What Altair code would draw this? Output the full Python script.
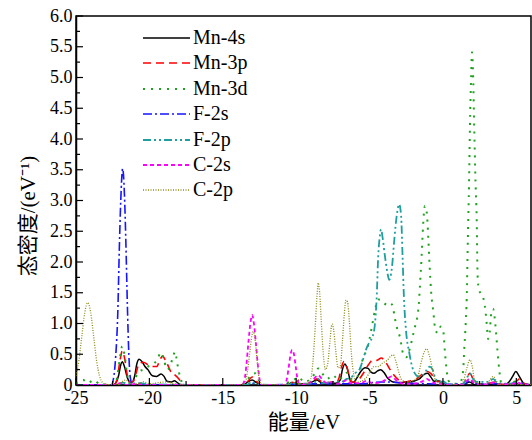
import altair as alt
import pandas as pd

# ---------------- data ----------------
SERIES = ["Mn-4s", "Mn-3p", "Mn-3d", "F-2s", "F-2p", "C-2s", "C-2p"]
COLORS = ["#000000", "#FF0000", "#1FA31F", "#1515FF", "#1E9E9E", "#FF00FF", "#8C8C1A"]
DASHES = [None, [8, 5], [2, 6], [9, 3, 2, 3], [8, 3, 2, 3, 2, 3], [4, 3], [1, 1.5]]
WIDTHS = [1.5, 1.6, 2.0, 1.6, 1.8, 1.8, 1.3]

X_MAJOR = [-25, -20, -15, -10, -5, 0, 5]
X_MINOR = [-22.5, -17.5, -12.5, -7.5, -2.5, 2.5]
Y_MAJOR = [0, 0.5, 1, 1.5, 2, 2.5, 3, 3.5, 4, 4.5, 5, 5.5, 6]
Y_MINOR = [0.25, 0.75, 1.25, 1.75, 2.25, 2.75, 3.25, 3.75, 4.25, 4.75, 5.25, 5.75]

MN_4S = [(-25, 0), (-23, 0), (-22.5, 0), (-22.3, 0.03), (-22.1, 0.15), (-21.95, 0.33), (-21.85, 0.38),
         (-21.7, 0.3), (-21.5, 0.12), (-21.3, 0.04), (-21.15, 0.05), (-21.0, 0.15), (-20.85, 0.35),
         (-20.7, 0.42), (-20.5, 0.38), (-20.3, 0.3), (-20.1, 0.25), (-19.8, 0.15), (-19.5, 0.14),
         (-19.2, 0.18), (-19.0, 0.14), (-18.8, 0.06), (-18.5, 0.05), (-18.3, 0.07), (-18.1, 0.04),
         (-17.9, 0.01), (-17.5, 0), (-13.6, 0), (-13.3, 0.05), (-13.0, 0.08), (-12.7, 0.04), (-12.4, 0),
         (-10.6, 0), (-10.3, 0.04), (-10.0, 0.02), (-9.2, 0.02), (-8.9, 0.05), (-8.6, 0.08), (-8.3, 0.04),
         (-8.0, 0.02), (-7.6, 0.03), (-7.3, 0.03), (-7.0, 0.08), (-6.85, 0.25), (-6.68, 0.34), (-6.5, 0.25),
         (-6.3, 0.07), (-6.1, 0.04), (-5.9, 0.1), (-5.6, 0.22), (-5.3, 0.28), (-5.1, 0.27), (-4.9, 0.21),
         (-4.7, 0.19), (-4.45, 0.23), (-4.25, 0.25), (-4.0, 0.2), (-3.8, 0.12), (-3.5, 0.06), (-3.2, 0.04),
         (-2.8, 0.04), (-2.5, 0.05), (-2.2, 0.05), (-1.9, 0.07), (-1.6, 0.1), (-1.3, 0.17), (-1.05, 0.19),
         (-0.8, 0.12), (-0.6, 0.06), (-0.4, 0.07), (-0.2, 0.06), (0.0, 0.02), (0.3, 0.0), (1.4, 0.0),
         (1.8, 0.05), (2.2, 0.0), (4.2, 0.0), (4.5, 0.05), (4.75, 0.14), (4.97, 0.22), (5.2, 0.14),
         (5.45, 0.04), (5.7, 0.0), (6.0, 0.0)]

MN_3P = [(-25, 0), (-22.4, 0), (-22.2, 0.1), (-22.0, 0.4), (-21.85, 0.55), (-21.7, 0.45), (-21.5, 0.15),
         (-21.3, 0.04), (-21.1, 0.06), (-20.9, 0.2), (-20.7, 0.35), (-20.4, 0.37), (-20.1, 0.33),
         (-19.8, 0.3), (-19.5, 0.3), (-19.3, 0.4), (-19.1, 0.47), (-18.9, 0.4), (-18.7, 0.3), (-18.5, 0.2),
         (-18.3, 0.17), (-18.0, 0.1), (-17.8, 0.03), (-17.6, 0), (-13.7, 0), (-13.3, 0.06), (-13.0, 0.13),
         (-12.7, 0.06), (-12.4, 0), (-10.7, 0), (-10.4, 0.06), (-10.1, 0.03), (-9.8, 0.08), (-9.5, 0.02),
         (-9.0, 0.03), (-8.6, 0.1), (-8.3, 0.06), (-8.0, 0.03), (-7.6, 0.05), (-7.3, 0.03), (-7.1, 0.1),
         (-6.9, 0.3), (-6.75, 0.38), (-6.55, 0.3), (-6.35, 0.12), (-6.2, 0.05), (-6.0, 0.05), (-5.7, 0.1),
         (-5.4, 0.2), (-5.1, 0.32), (-4.8, 0.4), (-4.5, 0.4), (-4.2, 0.44), (-3.9, 0.37), (-3.6, 0.25),
         (-3.3, 0.15), (-3.0, 0.08), (-2.6, 0.05), (-2.2, 0.07), (-1.8, 0.1), (-1.4, 0.18), (-1.05, 0.22),
         (-0.8, 0.18), (-0.5, 0.08), (-0.2, 0.05), (0.2, 0.01), (1.3, 0), (1.6, 0.1), (1.84, 0.19),
         (2.05, 0.1), (2.4, 0.02), (3.2, 0.03), (3.5, 0.05), (3.8, 0.01), (4.6, 0.02), (5.0, 0.06),
         (5.24, 0.1), (5.5, 0.03), (6, 0)]

MN_3D = [(-25, 0.02), (-24.5, 0.08), (-24.2, 0.03), (-23.8, 0.08), (-23.4, 0.02), (-22.4, 0), (-22.2, 0.12),
         (-22.0, 0.45), (-21.85, 0.63), (-21.7, 0.5), (-21.5, 0.15), (-21.3, 0.04), (-21.0, 0.1),
         (-20.7, 0.22), (-20.4, 0.25), (-20.1, 0.3), (-19.8, 0.33), (-19.5, 0.4), (-19.2, 0.53),
         (-19.0, 0.4), (-18.8, 0.25), (-18.6, 0.3), (-18.4, 0.45), (-18.25, 0.54), (-18.1, 0.35),
         (-17.9, 0.12), (-17.7, 0.02), (-17.4, 0), (-13.8, 0), (-13.4, 0.06), (-13.1, 0.15), (-12.8, 0.19),
         (-12.5, 0.06), (-12.2, 0), (-10.8, 0), (-10.5, 0.05), (-10.2, 0.08), (-9.8, 0.13), (-9.5, 0.05),
         (-9.0, 0.1), (-8.7, 0.2), (-8.49, 0.27), (-8.2, 0.18), (-7.9, 0.1), (-7.5, 0.16), (-7.1, 0.08),
         (-6.8, 0.15), (-6.56, 0.2), (-6.3, 0.1), (-6.0, 0.1), (-5.7, 0.2), (-5.43, 0.45), (-5.2, 0.57),
         (-5.0, 0.75), (-4.8, 1.0), (-4.6, 1.25), (-4.4, 1.39), (-4.2, 1.38), (-4.0, 1.33), (-3.8, 1.3),
         (-3.6, 1.33), (-3.45, 1.3), (-3.27, 1.08), (-3.1, 0.9), (-2.93, 0.78), (-2.7, 0.5), (-2.5, 0.45),
         (-2.25, 0.6), (-2.05, 0.8), (-1.9, 0.95), (-1.75, 1.1), (-1.65, 1.3), (-1.57, 1.6), (-1.45, 2.1),
         (-1.35, 2.6), (-1.23, 2.91), (-1.1, 2.8), (-1.0, 2.4), (-0.9, 1.9), (-0.8, 1.5), (-0.66, 1.2),
         (-0.5, 0.88), (-0.35, 0.85), (-0.15, 0.95), (0.02, 0.88), (0.14, 0.52), (0.25, 0.25), (0.36, 0.08),
         (0.6, 0.02), (1.0, 0.02), (1.2, 0.05), (1.38, 0.24), (1.45, 0.57), (1.55, 1.0), (1.62, 1.4),
         (1.7, 2.4), (1.78, 3.3), (1.84, 4.2), (1.92, 5.0), (1.98, 5.41), (2.06, 5.0), (2.13, 4.2),
         (2.22, 3.3), (2.3, 2.7), (2.36, 1.8), (2.45, 1.55), (2.55, 1.5), (2.7, 1.45), (2.8, 1.36),
         (2.9, 1.2), (2.98, 1.0), (3.08, 0.75), (3.18, 0.85), (3.3, 1.18), (3.42, 1.24), (3.52, 1.1),
         (3.62, 0.85), (3.72, 0.55), (3.84, 0.24), (3.95, 0.05), (4.2, 0), (4.6, 0.03), (5.0, 0.06),
         (5.3, 0.03), (6, 0)]

F_2S = [(-25, 0), (-22.6, 0), (-22.45, 0.1), (-22.3, 0.45), (-22.15, 1.2), (-22.05, 2.2), (-21.95, 3.0),
        (-21.82, 3.52), (-21.7, 3.1), (-21.6, 2.3), (-21.5, 1.3), (-21.4, 0.5), (-21.3, 0.12), (-21.15, 0),
        (-13.3, 0), (-13.0, 0.03), (-12.7, 0), (-8.6, 0.02), (-6.6, 0.02), (-5.5, 0.02), (-4.8, 0.04),
        (-4.2, 0.05), (-3.5, 0.05), (-2.8, 0.03), (-1.0, 0.02), (0.0, 0.01), (1.5, 0.02), (1.84, 0.08),
        (2.2, 0.02), (5.0, 0.02), (5.2, 0.03), (6, 0)]

F_2P = [(-25, 0), (-22.2, 0), (-22.0, 0.02), (-21.8, 0.04), (-21.5, 0.02), (-20.6, 0.03), (-20, 0.01),
        (-13.4, 0), (-13.0, 0.05), (-12.7, 0.01), (-10.5, 0.0), (-10.3, 0.04), (-10.0, 0.02), (-8.8, 0.03),
        (-8.5, 0.1), (-8.2, 0.03), (-7.5, 0.05), (-6.8, 0.06), (-6.56, 0.1), (-6.34, 0.11), (-5.99, 0.19),
        (-5.65, 0.27), (-5.4, 0.45), (-5.2, 0.6), (-5.0, 0.7), (-4.79, 0.79), (-4.63, 1.0), (-4.52, 1.39),
        (-4.41, 2.09), (-4.3, 2.42), (-4.22, 2.53), (-4.1, 2.38), (-3.95, 2.09), (-3.8, 1.85), (-3.66, 1.71),
        (-3.49, 1.88), (-3.31, 2.37), (-3.15, 2.75), (-2.98, 2.94), (-2.85, 2.75), (-2.75, 2.09),
        (-2.66, 1.44), (-2.52, 0.9), (-2.29, 0.52), (-2.02, 0.24), (-1.68, 0.14), (-1.4, 0.15), (-1.1, 0.25),
        (-0.89, 0.3), (-0.7, 0.25), (-0.5, 0.1), (-0.2, 0.05), (0.0, 0.06), (0.3, 0.02), (0.8, 0.0),
        (1.4, 0.02), (1.6, 0.1), (1.84, 0.19), (2.05, 0.1), (2.3, 0.05), (2.7, 0.05), (3.1, 0.05),
        (3.43, 0.1), (3.7, 0.03), (4.5, 0.02), (5.0, 0.04), (5.5, 0.01), (6, 0)]

C_2S = [(-25, 0), (-22.3, 0), (-22.0, 0.03), (-21.6, 0), (-20.8, 0.02), (-20.4, 0), (-13.7, 0), (-13.55, 0.05),
        (-13.4, 0.3), (-13.25, 0.7), (-13.12, 1.0), (-13.0, 1.14), (-12.88, 1.0), (-12.75, 0.7), (-12.6, 0.3),
        (-12.45, 0.05), (-12.3, 0), (-10.8, 0), (-10.65, 0.08), (-10.5, 0.3), (-10.38, 0.5), (-10.27, 0.57),
        (-10.15, 0.5), (-10.03, 0.3), (-9.9, 0.08), (-9.75, 0), (-9.2, 0.02), (-8.8, 0.1), (-8.5, 0.16),
        (-8.2, 0.08), (-7.9, 0.03), (-7.5, 0.05), (-7.2, 0.02), (-6.8, 0.05), (-6.56, 0.08), (-6.3, 0.03),
        (-5.6, 0.03), (-5.2, 0.07), (-4.8, 0.03), (-4.3, 0.04), (-3.8, 0.1), (-3.5, 0.14), (-3.2, 0.08),
        (-2.7, 0.02), (-2.0, 0.02), (-1.4, 0.06), (-1.1, 0.1), (-0.8, 0.05), (-0.3, 0.02), (0.5, 0),
        (1.4, 0.01), (1.8, 0.1), (2.2, 0.02), (3.0, 0.01), (3.4, 0.04), (3.8, 0.01), (4.8, 0.02),
        (5.1, 0.04), (5.4, 0.01), (6, 0)]

C_2P = [(-25, 0.15), (-24.8, 0.4), (-24.6, 0.8), (-24.4, 1.18), (-24.2, 1.34), (-24.0, 1.18), (-23.8, 0.8),
        (-23.6, 0.4), (-23.4, 0.15), (-23.2, 0.04), (-23.0, 0.01), (-22.2, 0), (-21.9, 0.05), (-21.6, 0.08),
        (-21.3, 0.03), (-20.8, 0.02), (-20.4, 0.05), (-20.0, 0.02), (-19.3, 0.04), (-18.8, 0.05),
        (-18.3, 0.02), (-17.8, 0), (-13.6, 0), (-13.45, 0.05), (-13.3, 0.25), (-13.15, 0.55), (-13.02, 0.8),
        (-12.92, 0.87), (-12.8, 0.75), (-12.68, 0.45), (-12.55, 0.15), (-12.4, 0.02), (-12.2, 0),
        (-10.6, 0), (-10.3, 0.04), (-10.0, 0.02), (-9.5, 0.02), (-9.2, 0.03), (-9.0, 0.1), (-8.85, 0.4),
        (-8.7, 0.95), (-8.58, 1.45), (-8.49, 1.66), (-8.4, 1.5), (-8.28, 1.0), (-8.15, 0.5), (-8.0, 0.25),
        (-7.85, 0.35), (-7.7, 0.7), (-7.6, 0.95), (-7.54, 0.99), (-7.45, 0.9), (-7.3, 0.55), (-7.15, 0.28),
        (-7.0, 0.3), (-6.85, 0.7), (-6.72, 1.15), (-6.6, 1.38), (-6.5, 1.35), (-6.38, 1.05), (-6.25, 0.55),
        (-6.1, 0.2), (-5.95, 0.08), (-5.8, 0.05), (-5.3, 0.1), (-5.0, 0.2), (-4.7, 0.3), (-4.4, 0.3),
        (-4.1, 0.36), (-3.8, 0.4), (-3.55, 0.47), (-3.38, 0.49), (-3.2, 0.38), (-3.0, 0.2), (-2.8, 0.08),
        (-2.4, 0.05), (-2.0, 0.07), (-1.7, 0.15), (-1.45, 0.4), (-1.25, 0.55), (-1.11, 0.59), (-0.95, 0.5),
        (-0.75, 0.3), (-0.55, 0.1), (-0.3, 0.03), (0.0, 0.0), (1.2, 0), (1.38, 0.05), (1.6, 0.25),
        (1.84, 0.41), (2.0, 0.3), (2.18, 0.05), (2.5, 0.02), (3.0, 0.02), (3.2, 0.08), (3.43, 0.14),
        (3.65, 0.06), (3.9, 0.0), (6, 0)]

POINTS = [MN_4S, MN_3P, MN_3D, F_2S, F_2P, C_2S, C_2P]

# ---------------- layout ----------------
W, H = 455, 369
SERIF = "Liberation Serif, Times New Roman, Noto Sans CJK SC"
FS = 18
TITLE_FS = 21
LEG_FS = 20

x_enc = alt.X(
    "e:Q",
    scale=alt.Scale(domain=[-25, 6], nice=False, zero=False),
    axis=alt.Axis(values=X_MAJOR, labelExpr="'' + datum.value", ticks=False, grid=False,
                  domainColor="black", domainWidth=1.5, labelFont=SERIF, labelFontSize=FS,
                  labelColor="black", labelPadding=4, labelFlush=False, labelOverlap=False,
                  title="能量/eV", titleFont=SERIF, titleFontSize=TITLE_FS, titleFontWeight="normal",
                  titleColor="black", titleY=37, titleBaseline="middle"),
)
y_enc = alt.Y(
    "dos:Q",
    scale=alt.Scale(domain=[0, 6], nice=False, zero=True),
    axis=alt.Axis(values=Y_MAJOR,
                  labelExpr="datum.value == 0 ? '0' : format(datum.value, '.1f')",
                  ticks=False, grid=False, domainColor="black", domainWidth=1.5,
                  labelFont=SERIF, labelFontSize=FS, labelColor="black", labelPadding=4,
                  labelFlush=False, labelOverlap=False,
                  title="态密度/(eV⁻¹)", titleFont=SERIF, titleFontSize=TITLE_FS,
                  titleFontWeight="normal", titleColor="black", titleAngle=270,
                  titleX=-48, titleY=H / 2 + 15, titleAlign="center", titleBaseline="middle"),
)

layers = []
for name, pts, col, dash, wd in zip(SERIES, POINTS, COLORS, DASHES, WIDTHS):
    df = pd.DataFrame(pts, columns=["e", "dos"])
    kw = dict(color=col, strokeWidth=wd, clip=True, interpolate="monotone")
    if dash:
        kw["strokeDash"] = dash
    layers.append(alt.Chart(df).mark_line(**kw).encode(x=x_enc, y=y_enc))

# inward axis ticks
xt_major = alt.Chart(pd.DataFrame({"e": X_MAJOR})).mark_rule(color="black", strokeWidth=1.2).encode(
    x=x_enc, y=alt.value(H), y2=alt.value(H - 7))
xt_minor = alt.Chart(pd.DataFrame({"e": X_MINOR})).mark_rule(color="black", strokeWidth=1.2).encode(
    x=x_enc, y=alt.value(H), y2=alt.value(H - 4))
yt_major = alt.Chart(pd.DataFrame({"dos": Y_MAJOR})).mark_rule(color="black", strokeWidth=1.2).encode(
    y=y_enc, x=alt.value(0), x2=alt.value(7))
yt_minor = alt.Chart(pd.DataFrame({"dos": Y_MINOR})).mark_rule(color="black", strokeWidth=1.2).encode(
    y=y_enc, x=alt.value(0), x2=alt.value(4))
layers += [xt_major, xt_minor, yt_major, yt_minor]

# legend (inside, top-left)
LEG_Y = [22, 47, 73, 98, 124, 149, 174]
for name, col, dash, wd, ly in zip(SERIES, COLORS, DASHES, WIDTHS, LEG_Y):
    kw = dict(color=col, strokeWidth=wd)
    if dash:
        kw["strokeDash"] = dash
    ldf = pd.DataFrame({"series": [name]})
    layers.append(alt.Chart(ldf).mark_rule(**kw).encode(
        x=alt.value(67), x2=alt.value(114), y=alt.value(ly)))
    layers.append(alt.Chart(ldf).mark_text(align="left", baseline="middle", font=SERIF,
                                           fontSize=LEG_FS, color="black").encode(
        x=alt.value(117), y=alt.value(ly), text="series:N"))

chart = alt.layer(*layers).properties(
    width=W, height=H,
    padding={"left": 76, "top": 16, "right": 1, "bottom": 55},
    autosize=alt.AutoSizeParams(type="none"),
    background="white",
).configure_view(stroke="black", strokeWidth=1.5)

chart.save("out.html", embed_options={"renderer": "svg", "actions": False})
